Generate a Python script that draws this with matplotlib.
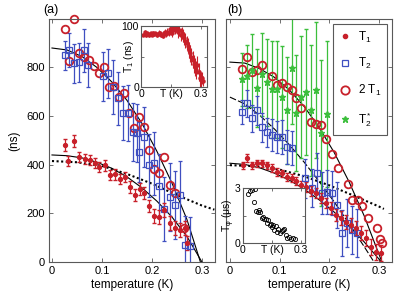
import matplotlib
matplotlib.use("Agg")
import matplotlib.pyplot as plt
from matplotlib.lines import Line2D

plt.rcParams['font.family'] = ['Liberation Sans', 'DejaVu Sans']
plt.rcParams['mathtext.default'] = 'regular'
plt.rcParams['font.size'] = 8

# ---- panel (a) data ----
a_t1_x = [0.026, 0.044, 0.032, 0.054, 0.066, 0.076, 0.086, 0.094, 0.106, 0.116, 0.126, 0.136, 0.146,
          0.156, 0.166, 0.176, 0.184, 0.194, 0.204, 0.214, 0.224, 0.236, 0.246, 0.256, 0.266, 0.270]
a_t1_y = [480, 497, 415, 431, 423, 419, 407, 390, 398, 357, 361, 341, 349,
          308, 275, 300, 283, 230, 189, 185, 213, 160, 140, 131, 140, 78]
a_t1_err = [25, 25, 20, 20, 20, 20, 20, 20, 22, 22, 22, 22, 22,
            25, 25, 25, 25, 25, 28, 28, 28, 28, 28, 30, 30, 30]

a_t2_x = [0.026, 0.034, 0.044, 0.054, 0.064, 0.072, 0.102, 0.112, 0.122, 0.132, 0.142, 0.152, 0.162,
          0.170, 0.184, 0.174, 0.194, 0.204, 0.214, 0.224, 0.236, 0.246, 0.256, 0.266, 0.276]
a_t2_y = [850, 870, 817, 821, 870, 809, 764, 776, 719, 673, 612, 612, 534,
          530, 514, 452, 398, 406, 312, 218, 267, 234, 275, 70, 66]
a_t2_err = [60, 70, 80, 80, 90, 90, 100, 100, 110, 110, 110, 115, 120,
            120, 125, 125, 130, 130, 130, 130, 140, 140, 140, 120, 120]

a_2t1_x = [0.026, 0.044, 0.034, 0.054, 0.064, 0.074, 0.084, 0.094, 0.104, 0.114, 0.124, 0.134, 0.144,
           0.154, 0.164, 0.174, 0.184, 0.194, 0.204, 0.214, 0.224, 0.236, 0.246, 0.264]
a_2t1_y = [960, 998, 826, 858, 842, 830, 805, 776, 800, 718, 723, 678, 694,
           612, 550, 596, 554, 460, 382, 365, 431, 316, 283, 140]

a_fit_x = [0, 0.03, 0.06, 0.09, 0.12, 0.15, 0.18, 0.21, 0.24, 0.27, 0.297]
a_fit_hi = [880, 872, 845, 800, 740, 665, 570, 455, 325, 175, 0]
a_fit_lo_x = [0, 0.03, 0.06, 0.09, 0.12, 0.15, 0.18, 0.21, 0.24, 0.27, 0.30]
a_fit_lo = [440, 437, 428, 410, 385, 350, 305, 250, 185, 105, 0]
a_dot_x = [0, 0.05, 0.1, 0.15, 0.2, 0.25, 0.3, 0.325]
a_dot_y = [415, 410, 395, 362, 322, 275, 232, 215]

# inset (a): T1 vs T
ia_x = [0.012, 0.018, 0.024, 0.03, 0.036, 0.042, 0.048, 0.054, 0.06, 0.066, 0.072, 0.078, 0.084,
        0.09, 0.096, 0.102, 0.108, 0.114, 0.12, 0.126, 0.132, 0.138, 0.144, 0.15, 0.156, 0.162,
        0.168, 0.174, 0.18, 0.186, 0.192, 0.198, 0.204, 0.21, 0.216, 0.222, 0.228, 0.234, 0.24,
        0.246, 0.252, 0.258, 0.264, 0.27, 0.276, 0.282, 0.288, 0.294, 0.3, 0.306, 0.312]
ia_y = [86, 90, 85, 88, 87, 85, 88, 86, 89, 87, 88, 85, 87,
        89, 88, 86, 84, 88, 90, 87, 91, 89, 95, 92, 88, 97,
        94, 99, 96, 90, 93, 86, 88, 84, 80, 76, 72, 68, 60,
        55, 50, 45, 38, 33, 28, 36, 25, 14, 12, 15, 10]
ia_err = [3, 3, 3, 3, 3, 3, 3, 3, 3, 3, 3, 3, 3,
          4, 4, 4, 4, 4, 5, 5, 5, 5, 6, 6, 6, 7,
          7, 8, 8, 9, 9, 10, 10, 11, 11, 12, 12, 13, 13,
          14, 14, 14, 15, 15, 15, 15, 15, 14, 12, 10, 8]

# ---- panel (b) data ----
b_t1_x = [0.026, 0.034, 0.044, 0.054, 0.064, 0.074, 0.084, 0.094, 0.104, 0.114, 0.124, 0.134, 0.144,
          0.154, 0.164, 0.174, 0.184, 0.194, 0.204, 0.214, 0.224, 0.234, 0.244, 0.254, 0.264, 0.274,
          0.284, 0.294, 0.304]
b_t1_y = [398, 427, 398, 406, 406, 398, 386, 370, 365, 349, 345, 333, 316,
          308, 292, 283, 263, 242, 222, 193, 181, 164, 152, 140, 119, 99,
          62, 41, 37]
b_t1_err = [15, 15, 15, 15, 15, 15, 15, 15, 15, 18, 18, 18, 18,
            20, 20, 20, 22, 22, 25, 25, 28, 28, 30, 30, 30, 32,
            32, 32, 32]

b_t2_x = [0.024, 0.034, 0.044, 0.054, 0.064, 0.074, 0.084, 0.094, 0.104, 0.114, 0.124, 0.151, 0.165,
          0.175, 0.185, 0.195, 0.205, 0.215, 0.225, 0.235, 0.245, 0.255]
b_t2_y = [616, 653, 591, 624, 554, 534, 522, 513, 513, 472, 468, 345, 304,
          365, 283, 287, 283, 234, 119, 160, 131, 119]
b_t2_err = [50, 55, 55, 60, 60, 60, 65, 65, 70, 70, 70, 80, 80,
            85, 85, 90, 90, 95, 95, 100, 100, 100]

b_2t1_x = [0.024, 0.034, 0.044, 0.054, 0.064, 0.084, 0.094, 0.104, 0.114, 0.124, 0.134, 0.144, 0.164,
           0.174, 0.184, 0.194, 0.205, 0.217, 0.237, 0.245, 0.257, 0.265, 0.277, 0.297, 0.302, 0.307]
b_2t1_y = [792, 842, 780, 788, 809, 764, 727, 735, 719, 706, 674, 632, 575,
           567, 563, 505, 443, 386, 320, 255, 255, 230, 181, 140, 94, 78]

b_t2s_x = [0.024, 0.034, 0.044, 0.054, 0.064, 0.074, 0.084, 0.094, 0.104, 0.114, 0.124, 0.134, 0.144,
           0.154, 0.164, 0.174, 0.184, 0.196]
b_t2s_y = [751, 764, 788, 714, 772, 739, 710, 710, 680, 624, 797, 612, 678,
           698, 624, 706, 530, 608]
b_t2s_err = [110, 130, 150, 160, 170, 180, 200, 200, 210, 220, 230, 240, 250,
             260, 270, 280, 300, 300]

b_fit_hi_x = [0, 0.03, 0.06, 0.09, 0.12, 0.15, 0.18, 0.21, 0.24, 0.27, 0.306]
b_fit_hi = [822, 818, 795, 759, 707, 638, 552, 450, 329, 191, 0]
b_fit_t2_x = [0, 0.03, 0.06, 0.09, 0.12, 0.15, 0.18, 0.21, 0.24, 0.27, 0.29]
b_fit_t2 = [678, 650, 603, 546, 481, 409, 330, 247, 157, 64, 0]
b_fit_lo_x = [0, 0.03, 0.06, 0.09, 0.12, 0.15, 0.18, 0.21, 0.24, 0.27, 0.305]
b_fit_lo = [406, 401, 387, 365, 336, 299, 255, 205, 147, 83, 0]
b_dot_x = [0, 0.05, 0.1, 0.15, 0.2, 0.25, 0.3, 0.31]
b_dot_y = [398, 394, 380, 352, 315, 272, 228, 218]

# inset (b): T_phi vs T
ib_x = [0.025, 0.035, 0.045, 0.055, 0.06, 0.07, 0.08, 0.085, 0.09, 0.1, 0.105, 0.11, 0.12, 0.125,
        0.13, 0.14, 0.145, 0.15, 0.155, 0.16, 0.17, 0.175, 0.18, 0.19, 0.2, 0.205, 0.21, 0.22,
        0.23, 0.24, 0.25, 0.26, 0.27]
ib_y = [2.7, 2.85, 2.9, 2.25, 2.95, 1.75, 1.7, 1.8, 1.7, 1.35, 1.4, 1.3, 1.3, 1.1,
        1.25, 1.0, 1.05, 0.85, 1.0, 0.7, 0.95, 0.6, 0.75, 0.55, 0.65, 0.7, 0.75, 0.45,
        0.3, 0.35, 0.25, 0.3, 0.22]

RED = '#c8202a'
BLUE = '#3f4fc0'
GREEN = '#3cbf3c'
SPINE = '0.35'


def style_axes(ax, size=8):
    for s in ax.spines.values():
        s.set_color(SPINE)
        s.set_linewidth(0.8)
    ax.tick_params(direction='in', top=True, right=True, length=3, width=0.6,
                   color=SPINE, labelsize=size, pad=3)


fig = plt.figure(figsize=(3.95, 2.99), dpi=100)

# ---------- panel (a) ----------
ax = fig.add_axes([0.124, 0.124, 0.420, 0.813])
ax.plot(a_fit_x, a_fit_hi, color='k', lw=0.8)
ax.plot(a_fit_lo_x, a_fit_lo, color='k', lw=0.8)
ax.plot(a_dot_x, a_dot_y, color='k', lw=1.5, ls=(0, (1, 1.2)))
ax.errorbar(a_t2_x, a_t2_y, yerr=a_t2_err, fmt='s', ms=4.8, mfc='none', mec=BLUE,
            ecolor=BLUE, elinewidth=0.9, capsize=1.2, mew=0.9)
ax.errorbar(a_t1_x, a_t1_y, yerr=a_t1_err, fmt='o', ms=2.8, color=RED,
            ecolor=RED, elinewidth=0.9, capsize=1.2)
ax.plot(a_2t1_x, a_2t1_y, 'o', ms=5.5, mfc='none', mec=RED, mew=1.3, clip_on=False)
ax.set_xlim(-0.006, 0.326)
ax.set_ylim(0, 1000)
ax.set_xticks([0, 0.1, 0.2, 0.3])
ax.set_xticklabels(['0', '0.1', '0.2', '0.3'])
ax.set_yticks([0, 200, 400, 600, 800])
ax.set_xlabel('temperature (K)', fontsize=8.5, labelpad=2)
style_axes(ax)

ia = fig.add_axes([0.357, 0.709, 0.167, 0.204])
ia.errorbar(ia_x, ia_y, yerr=ia_err, fmt='o', ms=2.2, color=RED,
            ecolor=RED, elinewidth=0.8, capsize=0)
ia.set_xlim(0, 0.33)
ia.set_ylim(0, 100)
ia.set_xticks([0, 0.15, 0.3])
ia.set_xticklabels(['0', 'T (K)', '0.3'])
ia.set_yticks([0, 50, 100])
ia.set_yticklabels(['0', '', '100'])
ia.set_ylabel('T$_1$ (ns)', fontsize=7.5)
ia.yaxis.set_label_coords(-0.08, 0.5)
style_axes(ia, 7.5)
ia.tick_params(pad=1.5, length=2)

# ---------- panel (b) ----------
bx = fig.add_axes([0.572, 0.124, 0.420, 0.813])
bx.plot(b_fit_hi_x, b_fit_hi, color='k', lw=0.8)
bx.plot(b_fit_t2_x, b_fit_t2, color='k', lw=0.8, ls=(0, (6, 2)))
bx.plot(b_fit_lo_x, b_fit_lo, color='k', lw=0.8)
bx.plot(b_dot_x, b_dot_y, color='k', lw=1.5, ls=(0, (1, 1.2)))
bx.errorbar(b_t2s_x, b_t2s_y, yerr=b_t2s_err, fmt='*', ms=5, color=GREEN,
            ecolor=GREEN, elinewidth=0.9, capsize=1.2)
bx.errorbar(b_t2_x, b_t2_y, yerr=b_t2_err, fmt='s', ms=4.8, mfc='none', mec=BLUE,
            ecolor=BLUE, elinewidth=0.9, capsize=1.2, mew=0.9)
bx.errorbar(b_t1_x, b_t1_y, yerr=b_t1_err, fmt='o', ms=2.8, color=RED,
            ecolor=RED, elinewidth=0.9, capsize=1.2)
bx.plot(b_2t1_x, b_2t1_y, 'o', ms=5.5, mfc='none', mec=RED, mew=1.3)
bx.set_xlim(-0.008, 0.326)
bx.set_ylim(0, 1000)
bx.set_xticks([0, 0.1, 0.2, 0.3])
bx.set_xticklabels(['0', '0.1', '0.2', '0.3'])
bx.set_yticks([0, 200, 400, 600, 800])
bx.set_yticklabels([])
bx.set_xlabel('temperature (K)', fontsize=8.5, labelpad=2)
style_axes(bx)

# legend shows markers only
handles = [Line2D([], [], ls='none', marker='o', ms=3, color=RED),
           Line2D([], [], ls='none', marker='s', ms=4.8, mfc='none', mec=BLUE, mew=0.9),
           Line2D([], [], ls='none', marker='o', ms=6, mfc='none', mec=RED, mew=1.3),
           Line2D([], [], ls='none', marker='*', ms=5, color=GREEN)]
labels = ['T$_1$', 'T$_2$', '2 T$_1$', 'T$_2^*$']
leg = bx.legend(handles, labels, loc='upper right', fontsize=8.5, fancybox=False,
                edgecolor=SPINE, framealpha=1, labelspacing=1.0, handlelength=1.0,
                handletextpad=0.6, borderpad=0.5, borderaxespad=0.4)
leg.get_frame().set_linewidth(0.8)

ib = fig.add_axes([0.615, 0.187, 0.157, 0.184])
ib.plot(ib_x, ib_y, 'o', ms=3, mfc='none', mec='k', mew=0.6)
ib.set_xlim(0, 0.32)
ib.set_ylim(0, 3)
ib.set_xticks([0, 0.15, 0.3])
ib.set_xticklabels(['0', 'T (K)', '0.3'])
ib.set_yticks([0, 1.5, 3])
ib.set_yticklabels(['0', '', '3'])
ib.set_ylabel('T$_\\varphi$ (μs)', fontsize=7.5)
ib.yaxis.set_label_coords(-0.1, 0.5)
style_axes(ib, 7.5)
ib.tick_params(pad=1.5, length=2)

fig.text(0.02, 0.53, '(ns)', rotation=90, fontsize=8.5, va='center', ha='left')
fig.text(0.110, 0.985, '(a)', fontsize=9, va='top')
fig.text(0.575, 0.985, '(b)', fontsize=9, va='top')

fig.savefig('out.png', dpi=100)
